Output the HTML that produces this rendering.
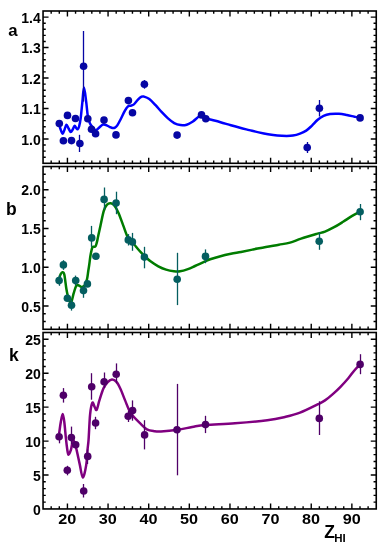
<!DOCTYPE html>
<html><head><meta charset="utf-8"><style>
html,body{margin:0;padding:0;background:#fff;width:386px;height:550px;overflow:hidden}
svg{display:block}
text{will-change:transform}
.t{font-family:"Liberation Sans",sans-serif;font-weight:bold;font-size:14px;fill:#000}
.x{font-family:"Liberation Sans",sans-serif;font-weight:bold;font-size:15px;fill:#000}
.l{font-family:"Liberation Sans",sans-serif;font-weight:bold;font-size:17.5px;fill:#000}
.s{font-family:"Liberation Sans",sans-serif;font-weight:bold;font-size:11.5px;fill:#000}
</style></head><body>
<svg width="386" height="550" viewBox="0 0 386 550">
<rect x="43.05" y="11.00" width="333.20" height="152.30" fill="none" stroke="#000" stroke-width="1.6"/>
<path d="M51.18,163.30v-2.70M51.18,11.00v2.70" stroke="#000" stroke-width="1.4"/>
<path d="M59.30,163.30v-2.70M59.30,11.00v2.70" stroke="#000" stroke-width="1.4"/>
<path d="M67.43,163.30v-5.50M67.43,11.00v5.50" stroke="#000" stroke-width="1.4"/>
<path d="M75.56,163.30v-2.70M75.56,11.00v2.70" stroke="#000" stroke-width="1.4"/>
<path d="M83.68,163.30v-2.70M83.68,11.00v2.70" stroke="#000" stroke-width="1.4"/>
<path d="M91.81,163.30v-2.70M91.81,11.00v2.70" stroke="#000" stroke-width="1.4"/>
<path d="M99.94,163.30v-2.70M99.94,11.00v2.70" stroke="#000" stroke-width="1.4"/>
<path d="M108.06,163.30v-5.50M108.06,11.00v5.50" stroke="#000" stroke-width="1.4"/>
<path d="M116.19,163.30v-2.70M116.19,11.00v2.70" stroke="#000" stroke-width="1.4"/>
<path d="M124.32,163.30v-2.70M124.32,11.00v2.70" stroke="#000" stroke-width="1.4"/>
<path d="M132.45,163.30v-2.70M132.45,11.00v2.70" stroke="#000" stroke-width="1.4"/>
<path d="M140.57,163.30v-2.70M140.57,11.00v2.70" stroke="#000" stroke-width="1.4"/>
<path d="M148.70,163.30v-5.50M148.70,11.00v5.50" stroke="#000" stroke-width="1.4"/>
<path d="M156.83,163.30v-2.70M156.83,11.00v2.70" stroke="#000" stroke-width="1.4"/>
<path d="M164.95,163.30v-2.70M164.95,11.00v2.70" stroke="#000" stroke-width="1.4"/>
<path d="M173.08,163.30v-2.70M173.08,11.00v2.70" stroke="#000" stroke-width="1.4"/>
<path d="M181.21,163.30v-2.70M181.21,11.00v2.70" stroke="#000" stroke-width="1.4"/>
<path d="M189.33,163.30v-5.50M189.33,11.00v5.50" stroke="#000" stroke-width="1.4"/>
<path d="M197.46,163.30v-2.70M197.46,11.00v2.70" stroke="#000" stroke-width="1.4"/>
<path d="M205.59,163.30v-2.70M205.59,11.00v2.70" stroke="#000" stroke-width="1.4"/>
<path d="M213.71,163.30v-2.70M213.71,11.00v2.70" stroke="#000" stroke-width="1.4"/>
<path d="M221.84,163.30v-2.70M221.84,11.00v2.70" stroke="#000" stroke-width="1.4"/>
<path d="M229.97,163.30v-5.50M229.97,11.00v5.50" stroke="#000" stroke-width="1.4"/>
<path d="M238.09,163.30v-2.70M238.09,11.00v2.70" stroke="#000" stroke-width="1.4"/>
<path d="M246.22,163.30v-2.70M246.22,11.00v2.70" stroke="#000" stroke-width="1.4"/>
<path d="M254.35,163.30v-2.70M254.35,11.00v2.70" stroke="#000" stroke-width="1.4"/>
<path d="M262.47,163.30v-2.70M262.47,11.00v2.70" stroke="#000" stroke-width="1.4"/>
<path d="M270.60,163.30v-5.50M270.60,11.00v5.50" stroke="#000" stroke-width="1.4"/>
<path d="M278.73,163.30v-2.70M278.73,11.00v2.70" stroke="#000" stroke-width="1.4"/>
<path d="M286.85,163.30v-2.70M286.85,11.00v2.70" stroke="#000" stroke-width="1.4"/>
<path d="M294.98,163.30v-2.70M294.98,11.00v2.70" stroke="#000" stroke-width="1.4"/>
<path d="M303.11,163.30v-2.70M303.11,11.00v2.70" stroke="#000" stroke-width="1.4"/>
<path d="M311.24,163.30v-5.50M311.24,11.00v5.50" stroke="#000" stroke-width="1.4"/>
<path d="M319.36,163.30v-2.70M319.36,11.00v2.70" stroke="#000" stroke-width="1.4"/>
<path d="M327.49,163.30v-2.70M327.49,11.00v2.70" stroke="#000" stroke-width="1.4"/>
<path d="M335.62,163.30v-2.70M335.62,11.00v2.70" stroke="#000" stroke-width="1.4"/>
<path d="M343.74,163.30v-2.70M343.74,11.00v2.70" stroke="#000" stroke-width="1.4"/>
<path d="M351.87,163.30v-5.50M351.87,11.00v5.50" stroke="#000" stroke-width="1.4"/>
<path d="M360.00,163.30v-2.70M360.00,11.00v2.70" stroke="#000" stroke-width="1.4"/>
<path d="M368.12,163.30v-2.70M368.12,11.00v2.70" stroke="#000" stroke-width="1.4"/>
<path d="M43.05,157.21h2.70M376.25,157.21h-2.70" stroke="#000" stroke-width="1.4"/>
<path d="M43.05,151.12h2.70M376.25,151.12h-2.70" stroke="#000" stroke-width="1.4"/>
<path d="M43.05,145.02h2.70M376.25,145.02h-2.70" stroke="#000" stroke-width="1.4"/>
<path d="M43.05,138.93h5.50M376.25,138.93h-5.50" stroke="#000" stroke-width="1.4"/>
<path d="M43.05,132.84h2.70M376.25,132.84h-2.70" stroke="#000" stroke-width="1.4"/>
<path d="M43.05,126.75h2.70M376.25,126.75h-2.70" stroke="#000" stroke-width="1.4"/>
<path d="M43.05,120.66h2.70M376.25,120.66h-2.70" stroke="#000" stroke-width="1.4"/>
<path d="M43.05,114.56h2.70M376.25,114.56h-2.70" stroke="#000" stroke-width="1.4"/>
<path d="M43.05,108.47h5.50M376.25,108.47h-5.50" stroke="#000" stroke-width="1.4"/>
<path d="M43.05,102.38h2.70M376.25,102.38h-2.70" stroke="#000" stroke-width="1.4"/>
<path d="M43.05,96.29h2.70M376.25,96.29h-2.70" stroke="#000" stroke-width="1.4"/>
<path d="M43.05,90.20h2.70M376.25,90.20h-2.70" stroke="#000" stroke-width="1.4"/>
<path d="M43.05,84.10h2.70M376.25,84.10h-2.70" stroke="#000" stroke-width="1.4"/>
<path d="M43.05,78.01h5.50M376.25,78.01h-5.50" stroke="#000" stroke-width="1.4"/>
<path d="M43.05,71.92h2.70M376.25,71.92h-2.70" stroke="#000" stroke-width="1.4"/>
<path d="M43.05,65.83h2.70M376.25,65.83h-2.70" stroke="#000" stroke-width="1.4"/>
<path d="M43.05,59.74h2.70M376.25,59.74h-2.70" stroke="#000" stroke-width="1.4"/>
<path d="M43.05,53.64h2.70M376.25,53.64h-2.70" stroke="#000" stroke-width="1.4"/>
<path d="M43.05,47.55h5.50M376.25,47.55h-5.50" stroke="#000" stroke-width="1.4"/>
<path d="M43.05,41.46h2.70M376.25,41.46h-2.70" stroke="#000" stroke-width="1.4"/>
<path d="M43.05,35.37h2.70M376.25,35.37h-2.70" stroke="#000" stroke-width="1.4"/>
<path d="M43.05,29.28h2.70M376.25,29.28h-2.70" stroke="#000" stroke-width="1.4"/>
<path d="M43.05,23.18h2.70M376.25,23.18h-2.70" stroke="#000" stroke-width="1.4"/>
<path d="M43.05,17.09h5.50M376.25,17.09h-5.50" stroke="#000" stroke-width="1.4"/>
<rect x="43.05" y="166.55" width="333.20" height="162.75" fill="none" stroke="#000" stroke-width="1.6"/>
<path d="M51.18,329.30v-2.70M51.18,166.55v2.70" stroke="#000" stroke-width="1.4"/>
<path d="M59.30,329.30v-2.70M59.30,166.55v2.70" stroke="#000" stroke-width="1.4"/>
<path d="M67.43,329.30v-5.50M67.43,166.55v5.50" stroke="#000" stroke-width="1.4"/>
<path d="M75.56,329.30v-2.70M75.56,166.55v2.70" stroke="#000" stroke-width="1.4"/>
<path d="M83.68,329.30v-2.70M83.68,166.55v2.70" stroke="#000" stroke-width="1.4"/>
<path d="M91.81,329.30v-2.70M91.81,166.55v2.70" stroke="#000" stroke-width="1.4"/>
<path d="M99.94,329.30v-2.70M99.94,166.55v2.70" stroke="#000" stroke-width="1.4"/>
<path d="M108.06,329.30v-5.50M108.06,166.55v5.50" stroke="#000" stroke-width="1.4"/>
<path d="M116.19,329.30v-2.70M116.19,166.55v2.70" stroke="#000" stroke-width="1.4"/>
<path d="M124.32,329.30v-2.70M124.32,166.55v2.70" stroke="#000" stroke-width="1.4"/>
<path d="M132.45,329.30v-2.70M132.45,166.55v2.70" stroke="#000" stroke-width="1.4"/>
<path d="M140.57,329.30v-2.70M140.57,166.55v2.70" stroke="#000" stroke-width="1.4"/>
<path d="M148.70,329.30v-5.50M148.70,166.55v5.50" stroke="#000" stroke-width="1.4"/>
<path d="M156.83,329.30v-2.70M156.83,166.55v2.70" stroke="#000" stroke-width="1.4"/>
<path d="M164.95,329.30v-2.70M164.95,166.55v2.70" stroke="#000" stroke-width="1.4"/>
<path d="M173.08,329.30v-2.70M173.08,166.55v2.70" stroke="#000" stroke-width="1.4"/>
<path d="M181.21,329.30v-2.70M181.21,166.55v2.70" stroke="#000" stroke-width="1.4"/>
<path d="M189.33,329.30v-5.50M189.33,166.55v5.50" stroke="#000" stroke-width="1.4"/>
<path d="M197.46,329.30v-2.70M197.46,166.55v2.70" stroke="#000" stroke-width="1.4"/>
<path d="M205.59,329.30v-2.70M205.59,166.55v2.70" stroke="#000" stroke-width="1.4"/>
<path d="M213.71,329.30v-2.70M213.71,166.55v2.70" stroke="#000" stroke-width="1.4"/>
<path d="M221.84,329.30v-2.70M221.84,166.55v2.70" stroke="#000" stroke-width="1.4"/>
<path d="M229.97,329.30v-5.50M229.97,166.55v5.50" stroke="#000" stroke-width="1.4"/>
<path d="M238.09,329.30v-2.70M238.09,166.55v2.70" stroke="#000" stroke-width="1.4"/>
<path d="M246.22,329.30v-2.70M246.22,166.55v2.70" stroke="#000" stroke-width="1.4"/>
<path d="M254.35,329.30v-2.70M254.35,166.55v2.70" stroke="#000" stroke-width="1.4"/>
<path d="M262.47,329.30v-2.70M262.47,166.55v2.70" stroke="#000" stroke-width="1.4"/>
<path d="M270.60,329.30v-5.50M270.60,166.55v5.50" stroke="#000" stroke-width="1.4"/>
<path d="M278.73,329.30v-2.70M278.73,166.55v2.70" stroke="#000" stroke-width="1.4"/>
<path d="M286.85,329.30v-2.70M286.85,166.55v2.70" stroke="#000" stroke-width="1.4"/>
<path d="M294.98,329.30v-2.70M294.98,166.55v2.70" stroke="#000" stroke-width="1.4"/>
<path d="M303.11,329.30v-2.70M303.11,166.55v2.70" stroke="#000" stroke-width="1.4"/>
<path d="M311.24,329.30v-5.50M311.24,166.55v5.50" stroke="#000" stroke-width="1.4"/>
<path d="M319.36,329.30v-2.70M319.36,166.55v2.70" stroke="#000" stroke-width="1.4"/>
<path d="M327.49,329.30v-2.70M327.49,166.55v2.70" stroke="#000" stroke-width="1.4"/>
<path d="M335.62,329.30v-2.70M335.62,166.55v2.70" stroke="#000" stroke-width="1.4"/>
<path d="M343.74,329.30v-2.70M343.74,166.55v2.70" stroke="#000" stroke-width="1.4"/>
<path d="M351.87,329.30v-5.50M351.87,166.55v5.50" stroke="#000" stroke-width="1.4"/>
<path d="M360.00,329.30v-2.70M360.00,166.55v2.70" stroke="#000" stroke-width="1.4"/>
<path d="M368.12,329.30v-2.70M368.12,166.55v2.70" stroke="#000" stroke-width="1.4"/>
<path d="M43.05,321.55h2.70M376.25,321.55h-2.70" stroke="#000" stroke-width="1.4"/>
<path d="M43.05,313.80h2.70M376.25,313.80h-2.70" stroke="#000" stroke-width="1.4"/>
<path d="M43.05,306.05h5.50M376.25,306.05h-5.50" stroke="#000" stroke-width="1.4"/>
<path d="M43.05,298.30h2.70M376.25,298.30h-2.70" stroke="#000" stroke-width="1.4"/>
<path d="M43.05,290.55h2.70M376.25,290.55h-2.70" stroke="#000" stroke-width="1.4"/>
<path d="M43.05,282.80h2.70M376.25,282.80h-2.70" stroke="#000" stroke-width="1.4"/>
<path d="M43.05,275.05h2.70M376.25,275.05h-2.70" stroke="#000" stroke-width="1.4"/>
<path d="M43.05,267.30h5.50M376.25,267.30h-5.50" stroke="#000" stroke-width="1.4"/>
<path d="M43.05,259.55h2.70M376.25,259.55h-2.70" stroke="#000" stroke-width="1.4"/>
<path d="M43.05,251.80h2.70M376.25,251.80h-2.70" stroke="#000" stroke-width="1.4"/>
<path d="M43.05,244.05h2.70M376.25,244.05h-2.70" stroke="#000" stroke-width="1.4"/>
<path d="M43.05,236.30h2.70M376.25,236.30h-2.70" stroke="#000" stroke-width="1.4"/>
<path d="M43.05,228.55h5.50M376.25,228.55h-5.50" stroke="#000" stroke-width="1.4"/>
<path d="M43.05,220.80h2.70M376.25,220.80h-2.70" stroke="#000" stroke-width="1.4"/>
<path d="M43.05,213.05h2.70M376.25,213.05h-2.70" stroke="#000" stroke-width="1.4"/>
<path d="M43.05,205.30h2.70M376.25,205.30h-2.70" stroke="#000" stroke-width="1.4"/>
<path d="M43.05,197.55h2.70M376.25,197.55h-2.70" stroke="#000" stroke-width="1.4"/>
<path d="M43.05,189.80h5.50M376.25,189.80h-5.50" stroke="#000" stroke-width="1.4"/>
<path d="M43.05,182.05h2.70M376.25,182.05h-2.70" stroke="#000" stroke-width="1.4"/>
<path d="M43.05,174.30h2.70M376.25,174.30h-2.70" stroke="#000" stroke-width="1.4"/>
<rect x="43.05" y="332.50" width="333.20" height="176.45" fill="none" stroke="#000" stroke-width="1.6"/>
<path d="M51.18,508.95v-2.70M51.18,332.50v2.70" stroke="#000" stroke-width="1.4"/>
<path d="M59.30,508.95v-2.70M59.30,332.50v2.70" stroke="#000" stroke-width="1.4"/>
<path d="M67.43,508.95v-5.50M67.43,332.50v5.50" stroke="#000" stroke-width="1.4"/>
<path d="M75.56,508.95v-2.70M75.56,332.50v2.70" stroke="#000" stroke-width="1.4"/>
<path d="M83.68,508.95v-2.70M83.68,332.50v2.70" stroke="#000" stroke-width="1.4"/>
<path d="M91.81,508.95v-2.70M91.81,332.50v2.70" stroke="#000" stroke-width="1.4"/>
<path d="M99.94,508.95v-2.70M99.94,332.50v2.70" stroke="#000" stroke-width="1.4"/>
<path d="M108.06,508.95v-5.50M108.06,332.50v5.50" stroke="#000" stroke-width="1.4"/>
<path d="M116.19,508.95v-2.70M116.19,332.50v2.70" stroke="#000" stroke-width="1.4"/>
<path d="M124.32,508.95v-2.70M124.32,332.50v2.70" stroke="#000" stroke-width="1.4"/>
<path d="M132.45,508.95v-2.70M132.45,332.50v2.70" stroke="#000" stroke-width="1.4"/>
<path d="M140.57,508.95v-2.70M140.57,332.50v2.70" stroke="#000" stroke-width="1.4"/>
<path d="M148.70,508.95v-5.50M148.70,332.50v5.50" stroke="#000" stroke-width="1.4"/>
<path d="M156.83,508.95v-2.70M156.83,332.50v2.70" stroke="#000" stroke-width="1.4"/>
<path d="M164.95,508.95v-2.70M164.95,332.50v2.70" stroke="#000" stroke-width="1.4"/>
<path d="M173.08,508.95v-2.70M173.08,332.50v2.70" stroke="#000" stroke-width="1.4"/>
<path d="M181.21,508.95v-2.70M181.21,332.50v2.70" stroke="#000" stroke-width="1.4"/>
<path d="M189.33,508.95v-5.50M189.33,332.50v5.50" stroke="#000" stroke-width="1.4"/>
<path d="M197.46,508.95v-2.70M197.46,332.50v2.70" stroke="#000" stroke-width="1.4"/>
<path d="M205.59,508.95v-2.70M205.59,332.50v2.70" stroke="#000" stroke-width="1.4"/>
<path d="M213.71,508.95v-2.70M213.71,332.50v2.70" stroke="#000" stroke-width="1.4"/>
<path d="M221.84,508.95v-2.70M221.84,332.50v2.70" stroke="#000" stroke-width="1.4"/>
<path d="M229.97,508.95v-5.50M229.97,332.50v5.50" stroke="#000" stroke-width="1.4"/>
<path d="M238.09,508.95v-2.70M238.09,332.50v2.70" stroke="#000" stroke-width="1.4"/>
<path d="M246.22,508.95v-2.70M246.22,332.50v2.70" stroke="#000" stroke-width="1.4"/>
<path d="M254.35,508.95v-2.70M254.35,332.50v2.70" stroke="#000" stroke-width="1.4"/>
<path d="M262.47,508.95v-2.70M262.47,332.50v2.70" stroke="#000" stroke-width="1.4"/>
<path d="M270.60,508.95v-5.50M270.60,332.50v5.50" stroke="#000" stroke-width="1.4"/>
<path d="M278.73,508.95v-2.70M278.73,332.50v2.70" stroke="#000" stroke-width="1.4"/>
<path d="M286.85,508.95v-2.70M286.85,332.50v2.70" stroke="#000" stroke-width="1.4"/>
<path d="M294.98,508.95v-2.70M294.98,332.50v2.70" stroke="#000" stroke-width="1.4"/>
<path d="M303.11,508.95v-2.70M303.11,332.50v2.70" stroke="#000" stroke-width="1.4"/>
<path d="M311.24,508.95v-5.50M311.24,332.50v5.50" stroke="#000" stroke-width="1.4"/>
<path d="M319.36,508.95v-2.70M319.36,332.50v2.70" stroke="#000" stroke-width="1.4"/>
<path d="M327.49,508.95v-2.70M327.49,332.50v2.70" stroke="#000" stroke-width="1.4"/>
<path d="M335.62,508.95v-2.70M335.62,332.50v2.70" stroke="#000" stroke-width="1.4"/>
<path d="M343.74,508.95v-2.70M343.74,332.50v2.70" stroke="#000" stroke-width="1.4"/>
<path d="M351.87,508.95v-5.50M351.87,332.50v5.50" stroke="#000" stroke-width="1.4"/>
<path d="M360.00,508.95v-2.70M360.00,332.50v2.70" stroke="#000" stroke-width="1.4"/>
<path d="M368.12,508.95v-2.70M368.12,332.50v2.70" stroke="#000" stroke-width="1.4"/>
<path d="M43.05,502.16h2.70M376.25,502.16h-2.70" stroke="#000" stroke-width="1.4"/>
<path d="M43.05,495.38h2.70M376.25,495.38h-2.70" stroke="#000" stroke-width="1.4"/>
<path d="M43.05,488.59h2.70M376.25,488.59h-2.70" stroke="#000" stroke-width="1.4"/>
<path d="M43.05,481.80h2.70M376.25,481.80h-2.70" stroke="#000" stroke-width="1.4"/>
<path d="M43.05,475.02h5.50M376.25,475.02h-5.50" stroke="#000" stroke-width="1.4"/>
<path d="M43.05,468.23h2.70M376.25,468.23h-2.70" stroke="#000" stroke-width="1.4"/>
<path d="M43.05,461.44h2.70M376.25,461.44h-2.70" stroke="#000" stroke-width="1.4"/>
<path d="M43.05,454.66h2.70M376.25,454.66h-2.70" stroke="#000" stroke-width="1.4"/>
<path d="M43.05,447.87h2.70M376.25,447.87h-2.70" stroke="#000" stroke-width="1.4"/>
<path d="M43.05,441.08h5.50M376.25,441.08h-5.50" stroke="#000" stroke-width="1.4"/>
<path d="M43.05,434.30h2.70M376.25,434.30h-2.70" stroke="#000" stroke-width="1.4"/>
<path d="M43.05,427.51h2.70M376.25,427.51h-2.70" stroke="#000" stroke-width="1.4"/>
<path d="M43.05,420.73h2.70M376.25,420.73h-2.70" stroke="#000" stroke-width="1.4"/>
<path d="M43.05,413.94h2.70M376.25,413.94h-2.70" stroke="#000" stroke-width="1.4"/>
<path d="M43.05,407.15h5.50M376.25,407.15h-5.50" stroke="#000" stroke-width="1.4"/>
<path d="M43.05,400.37h2.70M376.25,400.37h-2.70" stroke="#000" stroke-width="1.4"/>
<path d="M43.05,393.58h2.70M376.25,393.58h-2.70" stroke="#000" stroke-width="1.4"/>
<path d="M43.05,386.79h2.70M376.25,386.79h-2.70" stroke="#000" stroke-width="1.4"/>
<path d="M43.05,380.01h2.70M376.25,380.01h-2.70" stroke="#000" stroke-width="1.4"/>
<path d="M43.05,373.22h5.50M376.25,373.22h-5.50" stroke="#000" stroke-width="1.4"/>
<path d="M43.05,366.43h2.70M376.25,366.43h-2.70" stroke="#000" stroke-width="1.4"/>
<path d="M43.05,359.65h2.70M376.25,359.65h-2.70" stroke="#000" stroke-width="1.4"/>
<path d="M43.05,352.86h2.70M376.25,352.86h-2.70" stroke="#000" stroke-width="1.4"/>
<path d="M43.05,346.07h2.70M376.25,346.07h-2.70" stroke="#000" stroke-width="1.4"/>
<path d="M43.05,339.29h5.50M376.25,339.29h-5.50" stroke="#000" stroke-width="1.4"/>
<text x="40.80" y="144.73" text-anchor="end" class="t">1.0</text>
<text x="40.80" y="114.27" text-anchor="end" class="t">1.1</text>
<text x="40.80" y="83.81" text-anchor="end" class="t">1.2</text>
<text x="40.80" y="53.35" text-anchor="end" class="t">1.3</text>
<text x="40.80" y="22.89" text-anchor="end" class="t">1.4</text>
<text x="40.80" y="311.55" text-anchor="end" class="t">0.5</text>
<text x="40.80" y="272.80" text-anchor="end" class="t">1.0</text>
<text x="40.80" y="234.05" text-anchor="end" class="t">1.5</text>
<text x="40.80" y="195.30" text-anchor="end" class="t">2.0</text>
<text x="40.80" y="514.75" text-anchor="end" class="t">0</text>
<text x="40.80" y="480.82" text-anchor="end" class="t">5</text>
<text x="40.80" y="446.88" text-anchor="end" class="t">10</text>
<text x="40.80" y="412.95" text-anchor="end" class="t">15</text>
<text x="40.80" y="379.02" text-anchor="end" class="t">20</text>
<text x="40.80" y="345.09" text-anchor="end" class="t">25</text>
<text transform="translate(67.23,524.2) scale(1.08,1)" text-anchor="middle" class="x">20</text>
<text transform="translate(107.86,524.2) scale(1.08,1)" text-anchor="middle" class="x">30</text>
<text transform="translate(148.50,524.2) scale(1.08,1)" text-anchor="middle" class="x">40</text>
<text transform="translate(189.13,524.2) scale(1.08,1)" text-anchor="middle" class="x">50</text>
<text transform="translate(229.77,524.2) scale(1.08,1)" text-anchor="middle" class="x">60</text>
<text transform="translate(270.40,524.2) scale(1.08,1)" text-anchor="middle" class="x">70</text>
<text transform="translate(311.04,524.2) scale(1.08,1)" text-anchor="middle" class="x">80</text>
<text transform="translate(351.67,524.2) scale(1.08,1)" text-anchor="middle" class="x">90</text>
<text x="12.9" y="36.0" text-anchor="middle" class="l" style="font-size:16.8px">a</text>
<text x="11.4" y="215" text-anchor="middle" class="l">b</text>
<text x="13.8" y="360.8" text-anchor="middle" class="l">k</text>
<text x="324.3" y="538" class="l">Z</text><text x="334.3" y="542" class="s">HI</text>
<path d="M59.30,124.50 C59.47,125.17 59.77,126.98 60.30,128.50 C60.83,130.02 61.82,133.35 62.50,133.60 C63.18,133.85 63.75,131.48 64.40,130.00 C65.05,128.52 65.70,124.95 66.40,124.70 C67.10,124.45 67.88,127.28 68.60,128.50 C69.32,129.72 70.02,131.83 70.70,132.00 C71.38,132.17 72.05,130.53 72.70,129.50 C73.35,128.47 74.02,126.05 74.60,125.80 C75.18,125.55 75.70,127.42 76.20,128.00 C76.70,128.58 77.12,129.55 77.60,129.30 C78.08,129.05 78.58,128.35 79.10,126.50 C79.62,124.65 80.15,122.32 80.70,118.20 C81.25,114.08 81.85,106.90 82.40,101.80 C82.95,96.70 83.37,87.60 84.00,87.60 C84.63,87.60 85.57,97.07 86.20,101.80 C86.83,106.53 87.17,112.38 87.80,116.00 C88.43,119.62 89.10,121.52 90.00,123.50 C90.90,125.48 92.23,126.77 93.20,127.90 C94.17,129.03 94.90,130.27 95.80,130.30 C96.70,130.33 97.75,128.83 98.60,128.10 C99.45,127.37 100.12,126.48 100.90,125.90 C101.68,125.32 102.47,124.75 103.30,124.60 C104.13,124.45 104.87,124.63 105.90,125.00 C106.93,125.37 108.40,126.30 109.50,126.80 C110.60,127.30 111.58,127.87 112.50,128.00 C113.42,128.13 114.20,128.03 115.00,127.60 C115.80,127.17 116.32,126.88 117.30,125.40 C118.28,123.92 119.65,121.12 120.90,118.70 C122.15,116.28 123.62,112.95 124.80,110.90 C125.98,108.85 127.03,107.27 128.00,106.40 C128.97,105.53 129.62,106.03 130.60,105.70 C131.58,105.37 132.72,105.37 133.90,104.40 C135.08,103.43 136.42,101.18 137.70,99.90 C138.98,98.62 140.57,97.25 141.60,96.70 C142.63,96.15 142.62,96.22 143.90,96.60 C145.18,96.98 147.35,97.57 149.30,99.00 C151.25,100.43 153.52,103.00 155.60,105.20 C157.68,107.40 159.73,110.00 161.80,112.20 C163.87,114.40 165.93,116.58 168.00,118.40 C170.07,120.22 172.13,121.98 174.20,123.10 C176.27,124.22 178.32,124.83 180.40,125.10 C182.48,125.37 184.62,125.30 186.70,124.70 C188.78,124.10 190.68,122.93 192.90,121.50 C195.12,120.07 197.73,116.60 200.00,116.10 C202.27,115.60 204.80,117.93 206.50,118.50 C208.20,119.07 207.87,118.88 210.20,119.50 C212.53,120.12 217.05,121.23 220.50,122.20 C223.95,123.17 227.65,124.37 230.90,125.30 C234.15,126.23 236.93,127.00 240.00,127.80 C243.07,128.60 246.18,129.33 249.30,130.10 C252.42,130.87 255.58,131.70 258.70,132.40 C261.82,133.10 264.90,133.77 268.00,134.30 C271.10,134.83 274.18,135.32 277.30,135.60 C280.42,135.88 284.10,136.00 286.70,136.00 C289.30,136.00 290.68,136.00 292.90,135.60 C295.12,135.20 297.78,134.43 300.00,133.60 C302.22,132.77 304.23,131.90 306.20,130.60 C308.17,129.30 309.88,127.60 311.80,125.80 C313.72,124.00 315.73,121.47 317.70,119.80 C319.67,118.13 321.55,116.77 323.60,115.80 C325.65,114.83 327.45,114.33 330.00,114.00 C332.55,113.67 336.10,113.63 338.90,113.80 C341.70,113.97 344.22,114.52 346.80,115.00 C349.38,115.48 352.22,116.22 354.40,116.70 C356.58,117.18 358.98,117.70 359.90,117.90" fill="none" stroke="#0000ff" stroke-width="2.5" stroke-linejoin="round"/>
<circle cx="59.30" cy="123.50" r="3.80" fill="#0606a4"/>
<circle cx="63.40" cy="140.80" r="3.80" fill="#0606a4"/>
<circle cx="67.50" cy="115.40" r="3.80" fill="#0606a4"/>
<circle cx="71.50" cy="140.60" r="3.80" fill="#0606a4"/>
<circle cx="75.50" cy="118.50" r="3.80" fill="#0606a4"/>
<line x1="79.50" y1="134.80" x2="79.50" y2="152.00" stroke="#0606a4" stroke-width="1.3"/>
<circle cx="79.90" cy="143.50" r="3.80" fill="#0606a4"/>
<line x1="83.50" y1="31.00" x2="83.50" y2="101.60" stroke="#0606a4" stroke-width="1.3"/>
<circle cx="83.60" cy="66.30" r="3.80" fill="#0606a4"/>
<circle cx="87.80" cy="118.70" r="3.80" fill="#0606a4"/>
<circle cx="91.50" cy="129.20" r="3.80" fill="#0606a4"/>
<circle cx="95.60" cy="133.80" r="3.80" fill="#0606a4"/>
<circle cx="104.00" cy="120.10" r="3.80" fill="#0606a4"/>
<circle cx="116.00" cy="134.90" r="3.80" fill="#0606a4"/>
<circle cx="128.40" cy="100.60" r="3.80" fill="#0606a4"/>
<circle cx="132.50" cy="112.70" r="3.80" fill="#0606a4"/>
<line x1="144.50" y1="80.10" x2="144.50" y2="88.70" stroke="#0606a4" stroke-width="1.3"/>
<circle cx="144.40" cy="84.30" r="3.80" fill="#0606a4"/>
<circle cx="177.10" cy="135.10" r="3.80" fill="#0606a4"/>
<circle cx="201.50" cy="114.90" r="3.80" fill="#0606a4"/>
<circle cx="205.80" cy="118.80" r="3.80" fill="#0606a4"/>
<line x1="307.50" y1="142.00" x2="307.50" y2="153.00" stroke="#0606a4" stroke-width="1.3"/>
<circle cx="307.20" cy="147.50" r="3.80" fill="#0606a4"/>
<line x1="319.50" y1="100.00" x2="319.50" y2="116.50" stroke="#0606a4" stroke-width="1.3"/>
<circle cx="319.40" cy="108.20" r="3.80" fill="#0606a4"/>
<circle cx="360.10" cy="117.90" r="3.80" fill="#0606a4"/>
<path d="M59.30,278.00 C59.50,277.42 60.00,275.47 60.50,274.50 C61.00,273.53 61.67,272.20 62.30,272.20 C62.93,272.20 63.62,271.70 64.30,274.50 C64.98,277.30 65.70,285.03 66.40,289.00 C67.10,292.97 67.72,296.05 68.50,298.30 C69.28,300.55 70.23,303.35 71.10,302.50 C71.97,301.65 72.85,295.97 73.70,293.20 C74.55,290.43 75.35,287.20 76.20,285.90 C77.05,284.60 77.85,285.22 78.80,285.40 C79.75,285.58 80.87,287.07 81.90,287.00 C82.93,286.93 84.13,286.38 85.00,285.00 C85.87,283.62 86.57,280.95 87.10,278.70 C87.63,276.45 87.85,273.78 88.20,271.50 C88.55,269.22 88.83,267.58 89.20,265.00 C89.57,262.42 90.02,258.42 90.40,256.00 C90.78,253.58 91.18,251.90 91.50,250.50 C91.82,249.10 92.00,248.23 92.30,247.60 C92.60,246.97 92.90,246.85 93.30,246.70 C93.70,246.55 94.32,246.80 94.70,246.70 C95.08,246.60 95.32,246.55 95.60,246.10 C95.88,245.65 96.12,244.95 96.40,244.00 C96.68,243.05 97.00,241.73 97.30,240.40 C97.60,239.07 97.65,238.55 98.20,236.00 C98.75,233.45 99.68,229.25 100.60,225.10 C101.52,220.95 102.67,214.47 103.70,211.10 C104.73,207.73 105.63,206.20 106.80,204.90 C107.97,203.60 109.42,203.17 110.70,203.30 C111.98,203.43 113.22,204.13 114.50,205.70 C115.78,207.27 116.97,209.47 118.40,212.70 C119.83,215.93 121.53,220.97 123.10,225.10 C124.67,229.23 126.37,234.60 127.80,237.50 C129.23,240.40 130.63,241.33 131.70,242.50 C132.77,243.67 133.23,243.50 134.20,244.50 C135.17,245.50 136.33,247.13 137.50,248.50 C138.67,249.87 140.03,251.45 141.20,252.70 C142.37,253.95 142.95,254.57 144.50,256.00 C146.05,257.43 148.20,259.58 150.50,261.30 C152.80,263.02 155.70,264.92 158.30,266.30 C160.90,267.68 163.50,268.78 166.10,269.60 C168.70,270.42 171.57,270.92 173.90,271.20 C176.23,271.48 177.77,271.65 180.10,271.30 C182.43,270.95 185.42,269.98 187.90,269.10 C190.38,268.22 192.15,267.28 195.00,266.00 C197.85,264.72 202.47,262.52 205.00,261.40 C207.53,260.28 207.62,260.17 210.20,259.30 C212.78,258.43 217.05,257.12 220.50,256.20 C223.95,255.28 227.48,254.52 230.90,253.80 C234.32,253.08 237.32,252.62 241.00,251.90 C244.68,251.18 248.85,250.33 253.00,249.50 C257.15,248.67 261.58,247.70 265.90,246.90 C270.22,246.10 274.88,245.42 278.90,244.70 C282.92,243.98 286.30,243.62 290.00,242.60 C293.70,241.58 296.67,240.05 301.10,238.60 C305.53,237.15 312.62,235.07 316.60,233.90 C320.58,232.73 322.08,232.72 325.00,231.60 C327.92,230.48 331.08,228.83 334.10,227.20 C337.12,225.57 340.08,223.68 343.10,221.80 C346.12,219.92 349.37,217.57 352.20,215.90 C355.03,214.23 358.78,212.48 360.10,211.80" fill="none" stroke="#007c00" stroke-width="2.5" stroke-linejoin="round"/>
<line x1="59.50" y1="275.10" x2="59.50" y2="285.80" stroke="#045e60" stroke-width="1.3"/>
<circle cx="59.10" cy="280.60" r="3.80" fill="#045e60"/>
<line x1="63.50" y1="260.20" x2="63.50" y2="269.90" stroke="#045e60" stroke-width="1.3"/>
<circle cx="63.40" cy="264.90" r="3.80" fill="#045e60"/>
<circle cx="67.40" cy="298.30" r="3.80" fill="#045e60"/>
<line x1="71.50" y1="300.00" x2="71.50" y2="310.60" stroke="#045e60" stroke-width="1.3"/>
<circle cx="71.50" cy="305.20" r="3.80" fill="#045e60"/>
<line x1="75.50" y1="275.60" x2="75.50" y2="285.50" stroke="#045e60" stroke-width="1.3"/>
<circle cx="75.70" cy="280.60" r="3.80" fill="#045e60"/>
<line x1="83.50" y1="286.00" x2="83.50" y2="297.80" stroke="#045e60" stroke-width="1.3"/>
<circle cx="83.50" cy="290.60" r="3.80" fill="#045e60"/>
<circle cx="87.40" cy="283.90" r="3.80" fill="#045e60"/>
<line x1="91.50" y1="225.90" x2="91.50" y2="246.90" stroke="#045e60" stroke-width="1.3"/>
<circle cx="91.70" cy="237.90" r="3.80" fill="#045e60"/>
<circle cx="95.90" cy="256.20" r="3.80" fill="#045e60"/>
<line x1="104.50" y1="187.50" x2="104.50" y2="209.50" stroke="#045e60" stroke-width="1.3"/>
<circle cx="104.10" cy="199.40" r="3.80" fill="#045e60"/>
<line x1="116.50" y1="191.70" x2="116.50" y2="214.20" stroke="#045e60" stroke-width="1.3"/>
<circle cx="116.10" cy="203.00" r="3.80" fill="#045e60"/>
<line x1="128.50" y1="234.10" x2="128.50" y2="245.50" stroke="#045e60" stroke-width="1.3"/>
<circle cx="128.30" cy="239.90" r="3.80" fill="#045e60"/>
<line x1="132.50" y1="232.90" x2="132.50" y2="250.80" stroke="#045e60" stroke-width="1.3"/>
<circle cx="132.40" cy="241.90" r="3.80" fill="#045e60"/>
<line x1="144.50" y1="246.80" x2="144.50" y2="268.30" stroke="#045e60" stroke-width="1.3"/>
<circle cx="144.40" cy="257.10" r="3.80" fill="#045e60"/>
<line x1="177.50" y1="252.80" x2="177.50" y2="305.10" stroke="#045e60" stroke-width="1.3"/>
<circle cx="177.20" cy="279.20" r="3.80" fill="#045e60"/>
<line x1="205.50" y1="249.40" x2="205.50" y2="263.20" stroke="#045e60" stroke-width="1.3"/>
<circle cx="205.50" cy="256.40" r="3.80" fill="#045e60"/>
<line x1="319.50" y1="232.30" x2="319.50" y2="249.80" stroke="#045e60" stroke-width="1.3"/>
<circle cx="319.20" cy="241.20" r="3.80" fill="#045e60"/>
<line x1="360.50" y1="204.00" x2="360.50" y2="220.20" stroke="#045e60" stroke-width="1.3"/>
<circle cx="360.10" cy="211.80" r="3.80" fill="#045e60"/>
<path d="M59.20,433.10 C59.47,431.25 60.22,425.18 60.80,422.00 C61.38,418.82 62.12,414.00 62.70,414.00 C63.28,414.00 63.77,417.97 64.30,422.00 C64.83,426.03 65.42,433.70 65.90,438.20 C66.38,442.70 66.77,446.25 67.20,449.00 C67.63,451.75 67.87,454.60 68.50,454.70 C69.13,454.80 70.23,451.98 71.00,449.60 C71.77,447.22 72.27,440.73 73.10,440.40 C73.93,440.07 74.92,443.73 76.00,447.60 C77.08,451.47 78.47,458.62 79.60,463.60 C80.73,468.58 81.70,477.25 82.80,477.50 C83.90,477.75 85.40,469.83 86.20,465.10 C87.00,460.37 87.20,453.40 87.60,449.10 C88.00,444.80 88.18,445.08 88.60,439.30 C89.02,433.52 89.48,420.48 90.10,414.40 C90.72,408.32 91.57,404.10 92.30,402.80 C93.03,401.50 93.78,405.42 94.50,406.60 C95.22,407.78 95.78,410.93 96.60,409.90 C97.42,408.87 98.28,403.92 99.40,400.40 C100.52,396.88 102.00,391.77 103.30,388.80 C104.60,385.83 105.77,384.17 107.20,382.60 C108.63,381.03 110.35,379.53 111.90,379.40 C113.45,379.27 115.08,380.23 116.50,381.80 C117.92,383.37 118.97,385.70 120.40,388.80 C121.83,391.90 123.67,396.90 125.10,400.40 C126.53,403.90 127.57,407.07 129.00,409.80 C130.43,412.53 131.75,414.47 133.70,416.80 C135.65,419.13 138.50,421.72 140.70,423.80 C142.90,425.88 144.65,428.07 146.90,429.30 C149.15,430.53 151.85,430.83 154.20,431.20 C156.55,431.57 157.08,431.73 161.00,431.50 C164.92,431.27 172.50,430.55 177.70,429.80 C182.90,429.05 187.57,427.82 192.20,427.00 C196.83,426.18 198.37,425.52 205.50,424.90 C212.63,424.28 224.70,424.07 235.00,423.30 C245.30,422.53 258.97,421.35 267.30,420.30 C275.63,419.25 279.55,418.27 285.00,417.00 C290.45,415.73 294.48,414.83 300.00,412.70 C305.52,410.57 313.93,406.25 318.10,404.20 C322.27,402.15 322.55,402.08 325.00,400.40 C327.45,398.72 330.22,396.37 332.80,394.10 C335.38,391.83 337.92,389.45 340.50,386.80 C343.08,384.15 345.88,381.05 348.30,378.20 C350.72,375.35 353.03,372.00 355.00,369.70 C356.97,367.40 359.25,365.28 360.10,364.40" fill="none" stroke="#800080" stroke-width="2.5" stroke-linejoin="round"/>
<line x1="59.50" y1="432.50" x2="59.50" y2="443.30" stroke="#4f0068" stroke-width="1.3"/>
<circle cx="59.10" cy="436.80" r="3.80" fill="#4f0068"/>
<line x1="63.50" y1="388.10" x2="63.50" y2="402.60" stroke="#4f0068" stroke-width="1.3"/>
<circle cx="63.40" cy="395.20" r="3.80" fill="#4f0068"/>
<line x1="67.50" y1="465.80" x2="67.50" y2="475.30" stroke="#4f0068" stroke-width="1.3"/>
<circle cx="67.30" cy="470.20" r="3.80" fill="#4f0068"/>
<line x1="71.50" y1="426.60" x2="71.50" y2="444.00" stroke="#4f0068" stroke-width="1.3"/>
<circle cx="71.40" cy="437.60" r="3.80" fill="#4f0068"/>
<circle cx="75.70" cy="444.80" r="3.80" fill="#4f0068"/>
<line x1="83.50" y1="484.00" x2="83.50" y2="497.50" stroke="#4f0068" stroke-width="1.3"/>
<circle cx="83.70" cy="491.00" r="3.80" fill="#4f0068"/>
<line x1="87.50" y1="449.50" x2="87.50" y2="464.00" stroke="#4f0068" stroke-width="1.3"/>
<circle cx="87.70" cy="456.40" r="3.80" fill="#4f0068"/>
<line x1="91.50" y1="373.20" x2="91.50" y2="399.70" stroke="#4f0068" stroke-width="1.3"/>
<circle cx="91.70" cy="386.70" r="3.80" fill="#4f0068"/>
<line x1="95.50" y1="416.80" x2="95.50" y2="429.20" stroke="#4f0068" stroke-width="1.3"/>
<circle cx="95.60" cy="423.00" r="3.80" fill="#4f0068"/>
<line x1="104.50" y1="372.50" x2="104.50" y2="388.00" stroke="#4f0068" stroke-width="1.3"/>
<circle cx="104.10" cy="381.80" r="3.80" fill="#4f0068"/>
<line x1="116.50" y1="363.40" x2="116.50" y2="383.30" stroke="#4f0068" stroke-width="1.3"/>
<circle cx="116.20" cy="374.30" r="3.80" fill="#4f0068"/>
<line x1="128.50" y1="411.00" x2="128.50" y2="422.00" stroke="#4f0068" stroke-width="1.3"/>
<circle cx="128.20" cy="416.30" r="3.80" fill="#4f0068"/>
<line x1="132.50" y1="400.40" x2="132.50" y2="420.70" stroke="#4f0068" stroke-width="1.3"/>
<circle cx="132.60" cy="410.50" r="3.80" fill="#4f0068"/>
<line x1="144.50" y1="420.20" x2="144.50" y2="449.40" stroke="#4f0068" stroke-width="1.3"/>
<circle cx="144.60" cy="434.90" r="3.80" fill="#4f0068"/>
<line x1="177.50" y1="383.90" x2="177.50" y2="475.30" stroke="#4f0068" stroke-width="1.3"/>
<circle cx="177.00" cy="429.70" r="3.80" fill="#4f0068"/>
<line x1="205.50" y1="415.80" x2="205.50" y2="433.10" stroke="#4f0068" stroke-width="1.3"/>
<circle cx="205.50" cy="424.60" r="3.80" fill="#4f0068"/>
<line x1="319.50" y1="401.30" x2="319.50" y2="435.00" stroke="#4f0068" stroke-width="1.3"/>
<circle cx="319.30" cy="418.40" r="3.80" fill="#4f0068"/>
<line x1="360.50" y1="354.20" x2="360.50" y2="374.20" stroke="#4f0068" stroke-width="1.3"/>
<circle cx="360.10" cy="364.40" r="3.80" fill="#4f0068"/>
</svg>
</body></html>
